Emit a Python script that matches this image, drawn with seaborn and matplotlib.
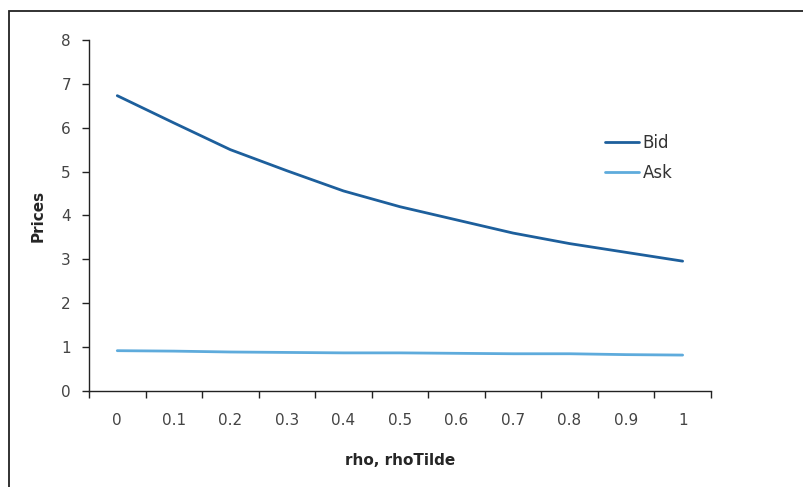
"""
Bid / Ask prices against rho, rhoTilde
"""
import matplotlib
matplotlib.use("Agg")
from matplotlib import pyplot
from matplotlib.patches import Rectangle
from matplotlib.ticker import FixedLocator
import seaborn
import pandas as pd

rho_labels = ["0", "0.1", "0.2", "0.3", "0.4", "0.5", "0.6", "0.7", "0.8", "0.9", "1"]
bid_prices = [6.73, 6.11, 5.50, 5.02, 4.56, 4.20, 3.90, 3.60, 3.36, 3.16, 2.96]
ask_prices = [0.92, 0.91, 0.89, 0.88, 0.87, 0.87, 0.86, 0.85, 0.85, 0.83, 0.82]
series_names = ["Bid", "Ask"]
series_colors = ["#1d5f9c", "#5eabdc"]


def main():
    df = pd.DataFrame({
        "rho": rho_labels * 2,
        "price": bid_prices + ask_prices,
        "series": [series_names[0]] * len(rho_labels) + [series_names[1]] * len(rho_labels),
    })

    seaborn.set_style("white")
    fig = pyplot.figure(figsize=(8.04, 4.87), dpi=100)
    ax = fig.add_axes([0.1107, 0.197, 0.7735, 0.721])

    seaborn.lineplot(
        data=df, x="rho", y="price", hue="series", ax=ax,
        palette=dict(zip(series_names, series_colors)), linewidth=2.0,
    )

    # outer frame (only left/top visible in the picture)
    fig.patches.append(Rectangle((0.0118, -0.1), 1.2, 1.078, transform=fig.transFigure,
                                 fill=False, edgecolor="#222222", linewidth=1.3))

    ax.set_xlim(-0.5, len(rho_labels) - 0.5)
    ax.set_ylim(0, 8)
    ax.set_yticks(range(0, 9))
    ax.set_xticks(range(len(rho_labels)))
    ax.set_xticklabels(rho_labels)
    ax.xaxis.set_minor_locator(FixedLocator([i - 0.5 for i in range(len(rho_labels) + 1)]))
    ax.tick_params(axis="x", which="major", length=0, pad=16, labelsize=11, labelcolor="#444444")
    ax.tick_params(axis="x", which="minor", length=5, width=1, color="#222222", direction="out", bottom=True)
    ax.tick_params(axis="y", length=5, width=1, color="#222222", direction="out", left=True,
                   pad=8, labelsize=11, labelcolor="#444444")

    for side in ["top", "right"]:
        ax.spines[side].set_visible(False)
    for side in ["left", "bottom"]:
        ax.spines[side].set_color("#222222")
        ax.spines[side].set_linewidth(1.0)

    ax.set_xlabel("rho, rhoTilde", fontweight="bold", fontsize=11, labelpad=18)
    ax.set_ylabel("Prices", fontweight="bold", fontsize=11, labelpad=11)

    leg = ax.legend(loc="upper left", bbox_to_anchor=(0.830, 0.732), frameon=False,
                    fontsize=12, handlelength=2.0, handletextpad=0.25, labelspacing=0.72,
                    borderpad=0, borderaxespad=0)
    for t in leg.get_texts():
        t.set_color("#333333")

    fig.savefig("out.png", dpi=100)


if __name__ == "__main__":
    main()
